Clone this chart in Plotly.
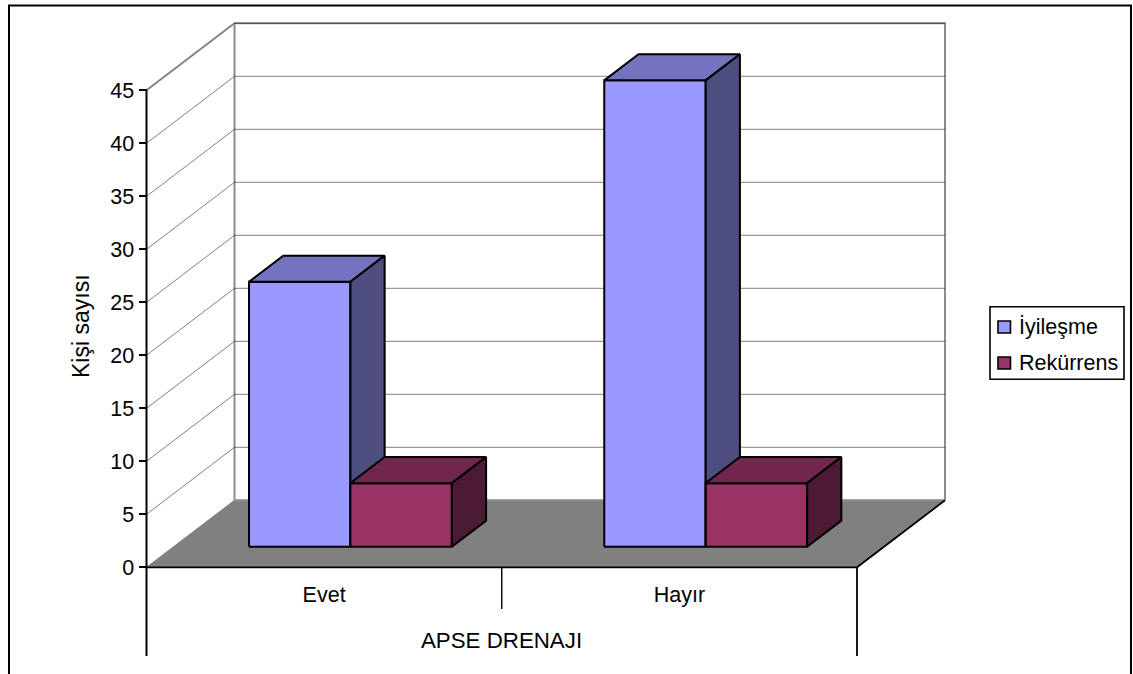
import plotly.graph_objects as go

# Chart data
categories = ["Evet", "Hayır"]
iyilesme = [25, 44]
rekurrens = [6, 6]
value_ticks = [0, 5, 10, 15, 20, 25, 30, 35, 40, 45]

series_names = ["İyileşme", "Rekürrens"]

# Canvas and axis scale (pixels)
WIDTH, HEIGHT = 1133, 674
X0_PX, PX_PER_CAT = 146.5, 355.25
Y0_PX, PX_PER_VAL = 567.3, 10.6

# Oblique projection: how far the back plane sits from the front plane, in axis units
DEPTH_X = 88 / PX_PER_CAT
DEPTH_Y = 67 / PX_PER_VAL

# Bar placement inside a category slot and along the depth
BAR_START, BAR_WIDTH = 0.2125, 0.2855
DEPTH_NEAR, DEPTH_FAR = 0.307, 0.696

FONT = "Liberation Sans"
FONT_SIZE = 21.5
GRAY = "#808080"
COLORS = {
    "İyileşme": ("#9999FF", "#7373BF", "#4D4D80"),
    "Rekürrens": ("#993366", "#73264D", "#4D1A33"),
}


def proj(cat, val, depth=0.0):
    """Project a (category, value, depth) point onto the flat axes."""
    return cat + depth * DEPTH_X, val + depth * DEPTH_Y


def path(*pts):
    return [p[0] for p in pts], [p[1] for p in pts]


def line(fig, pts, color=GRAY, width=1.0, dash=None):
    xs, ys = path(*pts)
    fig.add_trace(go.Scatter(x=xs, y=ys, mode="lines", hoverinfo="skip", showlegend=False,
                             line=dict(color=color, width=width, dash=dash)))


def faces(fig, name, values, slot):
    """Draw front, top and side faces for one series across the categories."""
    front, top, side = ([], []), ([], []), ([], [])
    for i, v in enumerate(values):
        x0 = i + BAR_START + slot * BAR_WIDTH
        x1 = x0 + BAR_WIDTH
        n, f = DEPTH_NEAR, DEPTH_FAR
        polys = (
            (front, [proj(x0, 0, n), proj(x1, 0, n), proj(x1, v, n), proj(x0, v, n)]),
            (top, [proj(x0, v, n), proj(x1, v, n), proj(x1, v, f), proj(x0, v, f)]),
            (side, [proj(x1, 0, n), proj(x1, 0, f), proj(x1, v, f), proj(x1, v, n)]),
        )
        for bucket, pts in polys:
            pts = pts + [pts[0]]
            bucket[0].extend([p[0] for p in pts] + [None])
            bucket[1].extend([p[1] for p in pts] + [None])
    for bucket, color in zip((front, top, side), COLORS[name]):
        fig.add_trace(go.Scatter(x=bucket[0], y=bucket[1], mode="lines", fill="toself",
                                 fillcolor=color, name=name, showlegend=False, hoverinfo="skip",
                                 line=dict(color="#000000", width=2)))


fig = go.Figure()
n_cat = len(categories)
top_val = value_ticks[-1]

# Floor
xs, ys = path(proj(0, 0), proj(n_cat, 0), proj(n_cat, 0, 1), proj(0, 0, 1), proj(0, 0))
fig.add_trace(go.Scatter(x=xs, y=ys, mode="lines", fill="toself", fillcolor=GRAY,
                         hoverinfo="skip", showlegend=False, line=dict(color=GRAY, width=1)))

# Wall frame
line(fig, [proj(0, top_val), proj(0, top_val, 1), proj(n_cat, top_val, 1), proj(n_cat, 0, 1)], "#8C8C8C", 2)
line(fig, [proj(0, top_val, 1), proj(0, 0, 1), proj(n_cat, 0, 1)], "#8C8C8C", 2)

# Gridlines on the side and back walls
for v in value_ticks[1:]:
    line(fig, [proj(0, v), proj(0, v, 1)], GRAY, 1)
    line(fig, [proj(0, v, 1), proj(n_cat, v, 1)], "#000000", 1, "1px,1px")

# Bars
faces(fig, series_names[0], iyilesme, 0)
faces(fig, series_names[1], rekurrens, 1)

# Axis lines, including the category separators below the floor
line(fig, [proj(0, top_val), proj(0, -8.37)], "#000000", 2)
line(fig, [proj(0, 0), proj(n_cat, 0), proj(n_cat, 0, 1)], "#000000", 1.8)
line(fig, [proj(1, 0), proj(1, -3.93)], "#000000", 1.4)
line(fig, [proj(n_cat, 0), proj(n_cat, -8.37)], "#000000", 1.8)


def px_x(p):
    return p / WIDTH


def px_y(p):
    return 1 - p / HEIGHT


annotations = [
    dict(text="APSE DRENAJI", x=n_cat / 2, y=-6.95, xref="x", yref="y", showarrow=False,
         xanchor="center", yanchor="middle", font=dict(size=22.3)),
    dict(text="Kişi sayısı", x=px_x(80.5), y=px_y(326.5), xref="paper", yref="paper", showarrow=False,
         textangle=-90, xanchor="center", yanchor="middle", font=dict(size=23)),
]

# Outer frame and legend box
shapes = [
    dict(type="rect", xref="paper", yref="paper", x0=px_x(9), x1=px_x(1131), y0=px_y(5.5), y1=px_y(690),
         line=dict(color="#000000", width=2), fillcolor="rgba(0,0,0,0)"),
    dict(type="rect", xref="paper", yref="paper", x0=px_x(990), x1=px_x(1124), y0=px_y(306.7), y1=px_y(379.3),
         line=dict(color="#000000", width=1.6), fillcolor="#FFFFFF"),
]
for name, cy in zip(series_names, (327, 363)):
    shapes.append(dict(type="rect", xref="paper", yref="paper", x0=px_x(998), x1=px_x(1010.5),
                       y0=px_y(cy - 6), y1=px_y(cy + 6),
                       line=dict(color="#000000", width=1.6), fillcolor=COLORS[name][0]))
    annotations.append(dict(text=name, x=px_x(1017), y=px_y(cy), xref="paper", yref="paper",
                            showarrow=False, xanchor="left", yanchor="middle"))

fig.update_layout(
    width=WIDTH, height=HEIGHT, autosize=False,
    margin=dict(l=0, r=0, t=0, b=0, pad=0),
    paper_bgcolor="#FFFFFF", plot_bgcolor="#FFFFFF",
    font=dict(family=FONT, size=FONT_SIZE, color="#000000"),
    showlegend=False,
    shapes=shapes,
    annotations=annotations,
    xaxis=dict(
        range=[-X0_PX / PX_PER_CAT, (WIDTH - X0_PX) / PX_PER_CAT],
        anchor="free", position=(HEIGHT - Y0_PX) / HEIGHT,
        tickmode="array", tickvals=[i + 0.5 for i in range(n_cat)], ticktext=categories,
        ticks="outside", ticklen=8, tickcolor="rgba(0,0,0,0)",
        showgrid=False, zeroline=False, showline=False,
    ),
    yaxis=dict(
        range=[-(HEIGHT - Y0_PX) / PX_PER_VAL, Y0_PX / PX_PER_VAL],
        anchor="free", position=X0_PX / WIDTH,
        tickmode="array", tickvals=value_ticks,
        ticks="outside", ticklen=8, tickwidth=2, tickcolor="#000000",
        showgrid=False, zeroline=False, showline=False,
    ),
)

fig.write_html("out.html", config={"displayModeBar": False})
